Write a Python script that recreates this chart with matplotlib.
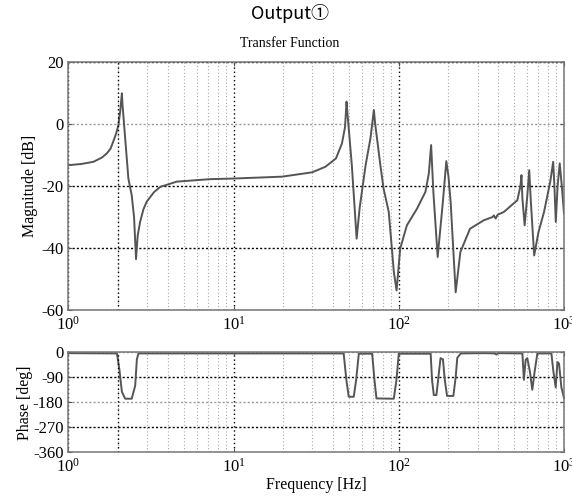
import matplotlib
matplotlib.use('Agg')
import matplotlib.pyplot as plt
from matplotlib.ticker import LogLocator, LogFormatterMathtext, NullFormatter

plt.rcParams['font.family'] = ['Liberation Serif', 'DejaVu Serif']
plt.rcParams['mathtext.fontset'] = 'custom'
plt.rcParams['mathtext.rm'] = 'Liberation Serif'
plt.rcParams['mathtext.it'] = 'Liberation Serif:italic'
plt.rcParams['axes.unicode_minus'] = False

# magnitude (Hz, dB)
mag_freq = [1.0, 1.2, 1.42, 1.6, 1.71, 1.8, 1.87, 1.95, 2.01, 2.06, 2.11, 2.13,
            2.31, 2.42, 2.5, 2.57, 2.63, 2.72, 2.85, 2.98, 3.3, 3.6, 4.53, 7.2,
            10, 19.6, 29.9, 36, 41.7, 45.3, 47.3, 48.3, 49, 52, 55.6, 58, 63,
            67.4, 70.7, 72, 77.4, 80.9, 87, 93.4, 97, 102, 112, 129, 145, 152,
            157, 162, 172, 185, 194, 200, 206, 221, 236, 270, 326, 370, 376,
            386, 396, 432, 522, 545, 553, 560, 578, 600, 616, 630, 660, 700,
            757, 826, 860, 875, 892, 915, 942, 970, 1000]
mag_db = [-13.3, -12.9, -12.2, -10.8, -9.5, -8.0, -5.7, -3.0, -0.3, 4.0, 9.9, 6.0,
          -17.6, -23.0, -30.0, -43.6, -36.0, -31.6, -27.5, -25.1, -22.0, -20.3, -18.6, -17.8,
          -17.6, -17.0, -15.6, -13.8, -11.1, -6.3, -1.0, 7.2, 3.0, -13.3, -37.0, -27.0, -13.3,
          -4.6, 4.5, 0.0, -13.3, -20.8, -28.4, -47.8, -53.7, -40.2, -32.7, -27.3, -21.9, -16.0,
          -6.8, -22.0, -42.9, -25.0, -12.0, -17.0, -25.1, -54.3, -41.3, -33.8, -31.1, -30.0, -29.5,
          -30.5, -29.3, -28.4, -24.6, -20.0, -16.5, -24.0, -32.7, -23.0, -14.9, -25.0, -42.4, -35.0,
          -28.4, -18.6, -12.2, -20.0, -31.6, -20.0, -12.7, -20.0, -28.9]

# phase (Hz, deg)
ph_freq = [1.0, 1.97, 2.04, 2.11, 2.21, 2.42, 2.54, 2.60, 2.66,
           46.4, 48.2, 49.8, 53.4, 55.2, 57.3, 69, 71.3, 73.3, 93.3, 96.8, 100,
           156, 159, 163, 169, 173, 179, 185, 190, 196, 214, 221, 226, 237,
           330, 380, 390, 400,
           560, 572, 586, 600, 622, 643, 664, 690,
           839, 863, 891, 913, 933, 964, 1000]
ph_deg = [-3, -4, -64, -142, -167, -167, -120, -25, -4,
          -4, -100, -160, -160, -100, -5, -5, -100, -166, -167, -100, -5,
          -5, -99, -154, -154, -100, -21, -25, -100, -157, -157, -90, -20, -4,
          -3, -4, -8, -3,
          -4, -99, -27, -21, -70, -135, -70, -4,
          -4, -70, -126, -35, -40, -126, -165]

mag_yticks = [20, 0, -20, -40, -60]
ph_yticks = [0, -90, -180, -270, -360]
dark_x = [2]

fig = plt.figure(figsize=(5.72, 4.97), dpi=100)
ax1 = fig.add_axes([0.1194, 0.3763, 0.8666, 0.499])
ax2 = fig.add_axes([0.1194, 0.0899, 0.8666, 0.2012])

fig.text(0.507, 0.972, 'Output\u2460', ha='center', va='center', fontsize=13,
         family=['Noto Sans CJK JP', 'DejaVu Sans'])
fig.text(0.507, 0.913, 'Transfer Function', ha='center', va='center', fontsize=10)

line_c = '#555555'
ax1.semilogx(mag_freq, mag_db, color=line_c, lw=1.4)
ax2.semilogx(ph_freq, ph_deg, color=line_c, lw=1.4, clip_on=False)

for ax, yt in ((ax1, mag_yticks), (ax2, ph_yticks)):
    ax.set_xlim(1, 1000)
    ax.set_ylim(min(yt), max(yt))
    ax.set_yticks(yt)
    ax.xaxis.set_major_locator(LogLocator(base=10, numticks=10))
    ax.xaxis.set_minor_locator(LogLocator(base=10, subs=range(2, 10), numticks=20))
    ax.xaxis.set_major_formatter(LogFormatterMathtext())
    ax.xaxis.set_minor_formatter(NullFormatter())
    ax.grid(True, which='major', axis='x', color='black', ls=(0, (1, 2)), lw=1.0)
    ax.grid(True, which='minor', axis='x', color='#aaaaaa', ls=(0, (1, 2)), lw=0.8)
    ax.grid(True, which='major', axis='y', color='black', ls=(0, (1.5, 1.5)), lw=1.0)
    for i, gl in enumerate(ax.get_ygridlines()):
        if yt[i] in (0, -180, -360):
            gl.set_color('#999999')
    for xv in dark_x:
        ax.axvline(xv, color='black', ls=(0, (1, 2)), lw=1.0)
    ax.tick_params(which='both', direction='in', top=True, right=True, labelsize=12,
                   length=3, color='#555555')
    ax.tick_params(which='minor', length=0)
    ax.tick_params(axis='x', pad=4)
    for s in ax.spines.values():
        s.set_color('#777777')
        s.set_linewidth(1.1)
    ax.set_axisbelow(True)

ax1.set_ylabel('Magnitude [dB]', fontsize=11.5, labelpad=2)
ax2.set_ylabel('Phase [deg]', fontsize=11.5, labelpad=0)
ax2.set_xlabel('Frequency [Hz]', fontsize=11.5, labelpad=1)

fig.savefig('out.png', dpi=100)
